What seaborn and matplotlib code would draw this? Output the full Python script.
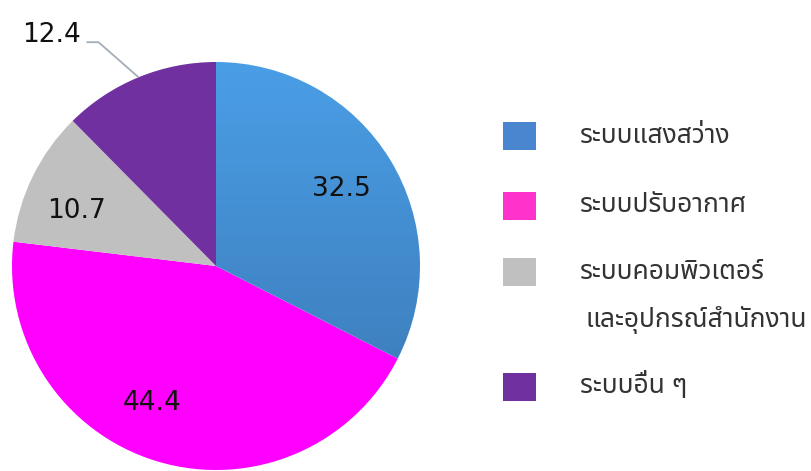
import matplotlib
matplotlib.use("Agg")
import matplotlib.pyplot as plt
from matplotlib import font_manager
from matplotlib.ft2font import FT2Font
from matplotlib.patches import Rectangle
import numpy as np
import seaborn as sns

# Energy share by building system (%)
categories = ["ระบบแสงสว่าง", "ระบบปรับอากาศ", "ระบบคอมพิวเตอร์\nและอุปกรณ์สำนักงาน", "ระบบอื่น ๆ"]
shares = [32.5, 44.4, 10.7, 12.4]
wedge_colors = ["#4690d6", "#ff00ff", "#c0c0c0", "#7030a0"]
legend_colors = ["#4a86cf", "#ff33cc", "#c0c0c0", "#7030a0"]

sns.set_theme(style="white")


def thai_family():
    """Pick an installed font that has Thai glyphs."""
    seen = []
    for f in font_manager.fontManager.ttflist:
        try:
            cmap = FT2Font(f.fname).get_charmap()
        except Exception:
            continue
        if ord("ร") in cmap and ord("บ") in cmap:
            seen.append(f.name)
    for pref in ["Tahoma", "Leelawadee UI", "Noto Sans Thai", "Noto Sans Thai UI",
                 "Loma", "Garuda", "Norasi", "DejaVu Sans"]:
        if pref in seen:
            return pref
    return seen[0] if seen else "DejaVu Sans"


thai = thai_family()
plt.rcParams["font.family"] = [thai, "DejaVu Sans"]

W, H = 811, 471
fig = plt.figure(figsize=(W / 100, H / 100), dpi=100)
fig.patch.set_facecolor("white")

# square axes holding the pie: centre (216, 266) px, radius 204 px
cx, cy, r = 216, 266, 204
ax = fig.add_axes([(cx - r) / W, (H - cy - r) / H, 2 * r / W, 2 * r / H])

wedges, _, autotexts = ax.pie(
    shares,
    colors=wedge_colors,
    startangle=90,
    counterclock=False,
    autopct="%.1f",
    pctdistance=0.73,
    wedgeprops=dict(linewidth=0),
    textprops=dict(fontsize=19, color="#111111", family="DejaVu Sans"),
)
ax.set_xlim(-1, 1)
ax.set_ylim(-1, 1)
ax.set_aspect("equal")
ax.axis("off")

# nudge the inside labels around their wedge centre (degrees, radius)
label_shift = [(0.0, 0.72), (-8.3, 0.74), (4.5, 0.735)]
for w, t, (dang, dist) in zip(wedges, autotexts, label_shift):
    a = np.deg2rad((w.theta1 + w.theta2) / 2 + dang)
    t.set_position((dist * np.cos(a), dist * np.sin(a)))

# vertical shading on the lighting wedge
grad = np.linspace(0, 1, 256).reshape(-1, 1)
cmap = matplotlib.colors.LinearSegmentedColormap.from_list("blue_shade", ["#4a9ee6", "#3a76b2"])
img = ax.imshow(grad, cmap=cmap, extent=[-1, 1, -1, 1], origin="upper", aspect="auto",
                zorder=wedges[0].get_zorder() + 0.1)
img.set_clip_path(wedges[0])
wedges[0].set_facecolor("none")
autotexts[0].set_zorder(5)

# the "others" value sits outside the pie with a bent leader line
w = wedges[3]
mid = np.deg2rad((w.theta1 + w.theta2) / 2)
end = np.array([np.cos(mid), np.sin(mid)])
elbow = end + np.array([-0.196, 0.172])
start = elbow + np.array([-0.059, 0.0])
ax.plot([start[0], elbow[0], end[0]], [start[1], elbow[1], end[1]],
        color="#a3adb8", lw=1.3, solid_capstyle="butt", clip_on=False, zorder=4)
autotexts[3].set_position((start[0] - 0.03, start[1]))
autotexts[3].set_ha("right")
autotexts[3].set_va("baseline")

# legend on the right
box_x, box_w, box_h = 503, 33, 28
box_centres = [136, 205.5, 272, 386.5]
for label, col, yc in zip(categories, legend_colors, box_centres):
    fig.add_artist(Rectangle((box_x / W, (H - yc - box_h / 2) / H), box_w / W, box_h / H,
                             transform=fig.transFigure, facecolor=col, edgecolor="none"))
    for i, line in enumerate(label.split("\n")):
        fig.text((580 + 6 * i) / W, (H - yc - 48 * i) / H, line,
                 fontsize=19, color="#333333", va="center", ha="left")

fig.savefig("out.png", dpi=100, facecolor="white")
